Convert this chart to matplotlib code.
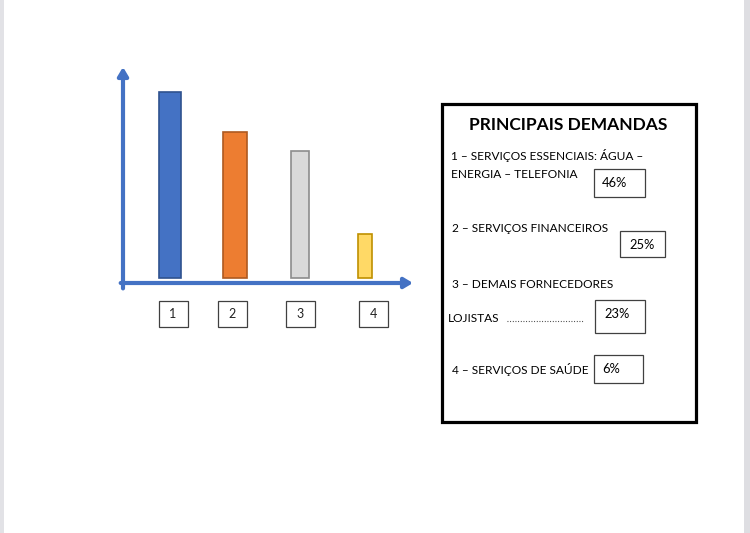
import matplotlib.pyplot as plt
from matplotlib.patches import Rectangle
from matplotlib.transforms import blended_transform_factory

plt.rcParams['font.family'] = ['Lato', 'DejaVu Sans']

# dados
categorias = ['1', '2', '3', '4']
alturas = [46, 36, 31.5, 11]          # altura desenhada das barras
percentuais = ['46%', '25%', '23%', '6%']
itens = ['1 – SERVIÇOS ESSENCIAIS: ÁGUA –\nENERGIA – TELEFONIA',
         '2 – SERVIÇOS FINANCEIROS',
         '3 – DEMAIS FORNECEDORES',
         '4 – SERVIÇOS DE SAÚDE']
titulo = 'PRINCIPAIS DEMANDAS'

cores = ['#4472C4', '#ED7D31', '#D9D9D9', '#FFD966']
bordas = ['#2F528F', '#AE5A21', '#8C8C8C', '#BF9000']
larguras = [0.34, 0.38, 0.28, 0.23]
desloc_caixa = [3, -3, 0.5, 8]       # deslocamento das caixinhas (px)
azul = '#4472C4'

fig = plt.figure(figsize=(7.5, 5.33), dpi=100)

# fundo em coordenadas de pixel
bg = fig.add_axes([0, 0, 1, 1])
bg.set_xlim(0, 750)
bg.set_ylim(533, 0)
bg.axis('off')
bg.add_patch(Rectangle((0, 0), 4, 533, color='#e2e2e6', lw=0))
bg.add_patch(Rectangle((744, 0), 6, 533, color='#dedee2', lw=0))

# grafico de barras
ax = fig.add_axes([123/750, (533-283)/533, (413-123)/750, (283-67)/533])
ax.patch.set_alpha(0)
x = [1, 2, 3, 4]
ax.bar(x, alturas, width=larguras, color=cores, edgecolor=bordas, linewidth=1.2, zorder=2)
ax.set_xlim(1 - 47/65, 1 + 243/65)
ax.set_ylim(-5/4.043, (278-67)/4.043)
ax.axis('off')

# eixos com setas
ax.annotate('', xy=(0, 1), xytext=(0, -0.025), xycoords='axes fraction',
            arrowprops=dict(arrowstyle='-|>,head_length=0.5,head_width=0.3',
                            color=azul, lw=3, shrinkA=0, shrinkB=0))
ax.annotate('', xy=(1, 0), xytext=(-0.008, 0), xycoords='axes fraction',
            arrowprops=dict(arrowstyle='-|>,head_length=0.5,head_width=0.3',
                            color=azul, lw=3, shrinkA=0, shrinkB=0))

# caixinhas com numeros
tr = blended_transform_factory(ax.transData, ax.transAxes)
for xi, cat, d in zip(x, categorias, desloc_caixa):
    xc = xi + d/65
    w = 29/65
    h = 26/216
    yc = (283-314)/216
    ax.add_patch(Rectangle((xc - w/2, yc - h/2), w, h, transform=tr, clip_on=False,
                           fill=False, edgecolor='#404040', lw=0.9))
    ax.text(xc, yc, cat, transform=tr, ha='center', va='center', fontsize=9, color='#222222')

# quadro das principais demandas
bg.add_patch(Rectangle((442, 104), 254, 318, fill=False, edgecolor='black', lw=2.3))
bg.text(568, 125, titulo, ha='center', va='center', fontsize=12.5, fontweight='bold')

fs = 8.6
linha1, linha2 = itens[0].split('\n')
bg.text(451, 156, linha1, ha='left', va='center', fontsize=fs)
bg.text(451, 174, linha2, ha='left', va='center', fontsize=fs)
bg.text(452, 229, itens[1], ha='left', va='center', fontsize=fs)
bg.text(452, 285, itens[2], ha='left', va='center', fontsize=fs)
bg.text(448, 318, 'LOJISTAS', ha='left', va='center', fontsize=fs)
bg.plot([507, 583], [320.5, 320.5], color='#333333', lw=0.8, linestyle=(0, (0.8, 1.6)))
bg.text(452, 369, itens[3], ha='left', va='center', fontsize=fs)

# caixas de percentuais (x, y, largura, altura, centro do texto)
caixas = [(594, 169, 51, 28, (615, 183)), (620, 231, 45, 26, (642, 245)),
          (595, 300, 50, 33, (617, 314)), (594, 355, 49, 28, (611, 369))]
for (bx, by, bw, bh, (tx, ty)), p in zip(caixas, percentuais):
    bg.add_patch(Rectangle((bx, by), bw, bh, fill=False, edgecolor='#404040', lw=0.9))
    bg.text(tx, ty, p, ha='center', va='center', fontsize=9.3)

fig.savefig('out.png', dpi=100)
